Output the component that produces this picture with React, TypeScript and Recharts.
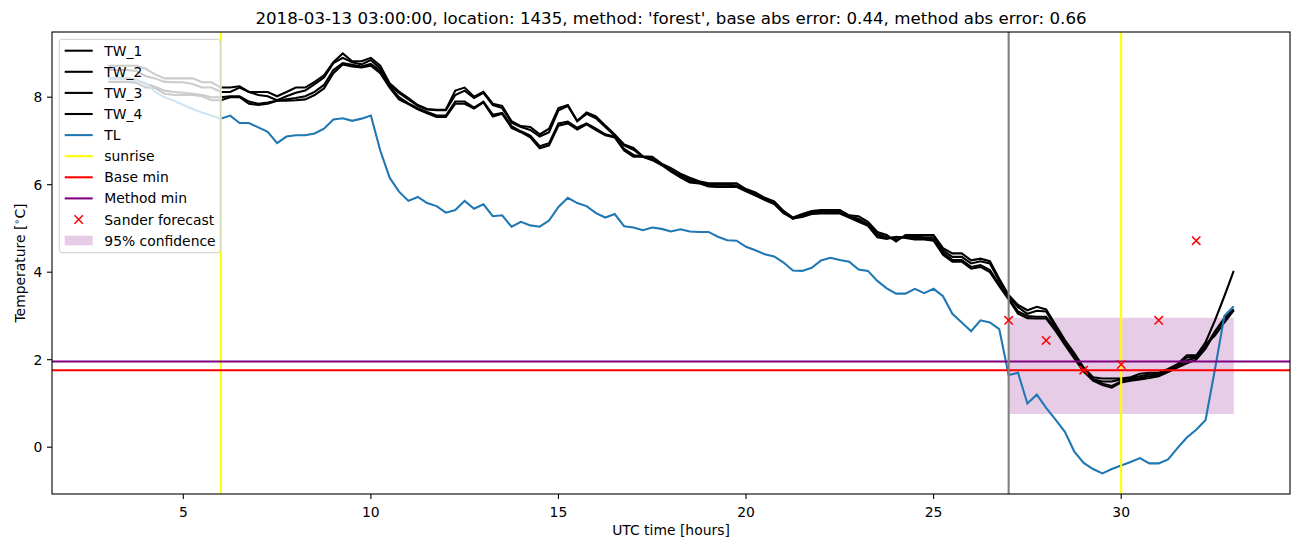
import React from 'react';
import {
  ComposedChart,
  Line,
  Scatter,
  XAxis,
  YAxis,
  ReferenceLine,
  ReferenceArea,
} from 'recharts';

const FONT = '"DejaVu Sans", sans-serif';

const C = {
  tw: '#000000',
  tl: '#1f77b4',
  sunrise: '#ffff00',
  base: '#ff0000',
  method: '#800080',
  forecast: '#ff0000',
  now: '#808080',
};

// sampling grid: every quarter hour from 03:00 to 33:00
const HOURS = Array.from({ length: 121 }, (_, i) => 3 + i * 0.25);

// ─── Series (8 values = 2 hours per row) ───────────────────────────────

const TW_1 = [
  8.72, 8.72, 8.72, 8.72, 8.65, 8.52, 8.43, 8.43,
  8.43, 8.43, 8.34, 8.34, 8.22, 8.22, 8.25, 8.12,
  8.12, 8.12, 8.02, 8.12, 8.22, 8.22, 8.35, 8.5,
  8.8, 9.0, 8.82, 8.82, 8.9, 8.72, 8.32, 8.13,
  7.98, 7.82, 7.73, 7.71, 7.72, 8.15, 8.22, 8.01,
  8.12, 7.85, 7.8, 7.45, 7.34, 7.32, 7.15, 7.28,
  7.75, 7.82, 7.46, 7.65, 7.56, 7.35, 7.15, 6.92,
  6.84, 6.65, 6.64, 6.48, 6.38, 6.25, 6.16, 6.08,
  6.03, 6.03, 6.03, 6.03, 5.9, 5.82, 5.7, 5.62,
  5.4, 5.25, 5.33, 5.4, 5.42, 5.42, 5.42, 5.3,
  5.28, 5.15, 4.92, 4.85, 4.7, 4.85, 4.85, 4.85,
  4.85, 4.55, 4.43, 4.43, 4.27, 4.31, 4.25, 3.85,
  3.48, 3.25, 3.13, 3.21, 3.15, 2.8, 2.45, 2.15,
  1.82, 1.6, 1.57, 1.57, 1.57, 1.6, 1.68, 1.7,
  1.7, 1.79, 1.9, 2.1, 2.1, 2.35, 2.55, 2.85,
  3.13,
];

const TW_2 = [
  8.35, 8.35, 8.35, 8.33, 8.22, 8.21, 8.08, 8.05,
  8.05, 8.05, 8.02, 7.93, 7.93, 8.0, 8.0, 7.85,
  7.82, 7.85, 7.92, 7.92, 7.93, 7.95, 8.05, 8.2,
  8.55, 8.75, 8.7, 8.68, 8.72, 8.55, 8.22, 7.95,
  7.84, 7.72, 7.63, 7.55, 7.55, 7.85, 7.85, 7.74,
  7.88, 7.56, 7.62, 7.3, 7.2, 7.08, 6.83, 6.9,
  7.35, 7.4, 7.26, 7.38, 7.25, 7.13, 7.08, 6.78,
  6.64, 6.64, 6.56, 6.45, 6.3, 6.17, 6.05, 6.03,
  5.96, 5.95, 5.95, 5.95, 5.85, 5.75, 5.65, 5.56,
  5.35, 5.23, 5.26, 5.33, 5.34, 5.34, 5.34, 5.25,
  5.15, 5.06, 4.8, 4.76, 4.81, 4.78, 4.75, 4.75,
  4.72, 4.4, 4.24, 4.24, 4.08, 4.12, 4.0, 3.68,
  3.38, 3.05, 2.95, 2.94, 2.94, 2.66, 2.34, 2.03,
  1.73, 1.52, 1.42, 1.36, 1.48, 1.52, 1.55, 1.58,
  1.62, 1.72, 1.82, 1.92, 2.0, 2.25, 2.62, 2.92,
  3.13,
];

const TW_3 = [
  8.62, 8.62, 8.62, 8.6, 8.48, 8.43, 8.35, 8.34,
  8.34, 8.3, 8.22, 8.22, 8.12, 8.12, 8.22, 8.12,
  8.05, 8.02, 7.93, 8.02, 8.1, 8.15, 8.3, 8.45,
  8.78, 8.9, 8.8, 8.75, 8.85, 8.65, 8.28, 8.1,
  7.95, 7.8, 7.72, 7.7, 7.7, 8.05, 8.15, 7.98,
  8.1, 7.82, 7.75, 7.42, 7.32, 7.25, 7.1, 7.2,
  7.7, 7.8, 7.45, 7.62, 7.52, 7.32, 7.12, 6.9,
  6.8, 6.64, 6.6, 6.45, 6.35, 6.22, 6.12, 6.05,
  6.0, 6.0, 6.0, 5.98, 5.88, 5.8, 5.66, 5.6,
  5.38, 5.22, 5.3, 5.38, 5.4, 5.4, 5.4, 5.28,
  5.22, 5.1, 4.88, 4.8, 4.75, 4.82, 4.82, 4.8,
  4.8, 4.5, 4.35, 4.35, 4.2, 4.25, 4.2, 3.8,
  3.45, 3.2, 3.05, 3.12, 3.1, 2.75, 2.4, 2.1,
  1.78, 1.55, 1.5, 1.5, 1.55, 1.58, 1.62, 1.66,
  1.68, 1.76, 1.88, 2.05, 2.08, 2.4, 2.9, 3.45,
  4.03,
];

const TW_4 = [
  8.43, 8.43, 8.43, 8.4, 8.3, 8.24, 8.15, 8.12,
  8.1, 8.08, 8.05, 8.0, 8.0, 8.02, 8.02, 7.9,
  7.85, 7.88, 7.92, 7.95, 7.98, 8.02, 8.12, 8.28,
  8.62, 8.78, 8.74, 8.7, 8.76, 8.6, 8.25, 8.0,
  7.86, 7.75, 7.66, 7.58, 7.58, 7.9, 7.9, 7.76,
  7.9, 7.6, 7.64, 7.34, 7.22, 7.12, 6.88, 6.95,
  7.4, 7.44, 7.3, 7.4, 7.28, 7.15, 7.1, 6.82,
  6.68, 6.64, 6.58, 6.46, 6.32, 6.2, 6.08, 6.04,
  5.98, 5.96, 5.96, 5.96, 5.86, 5.78, 5.67, 5.58,
  5.36, 5.24, 5.28, 5.35, 5.36, 5.36, 5.36, 5.26,
  5.18, 5.08, 4.84, 4.78, 4.8, 4.8, 4.78, 4.78,
  4.75, 4.45, 4.28, 4.28, 4.12, 4.16, 4.05, 3.72,
  3.4, 3.1, 3.0, 2.98, 2.98, 2.7, 2.38, 2.06,
  1.75, 1.55, 1.45, 1.4, 1.5, 1.55, 1.58, 1.62,
  1.65, 1.75, 1.86, 1.98, 2.05, 2.3, 2.65, 2.95,
  3.15,
];

const TL = [
  8.43, 8.42, 8.41, 8.4, 8.32, 8.12, 8.0, 7.92,
  7.82, 7.73, 7.65, 7.58, 7.51, 7.58, 7.41, 7.41,
  7.31, 7.21, 6.95, 7.1, 7.13, 7.13, 7.17, 7.28,
  7.49, 7.52, 7.46, 7.51, 7.58, 6.78, 6.16, 5.84,
  5.63, 5.72, 5.58, 5.51, 5.36, 5.42, 5.63, 5.45,
  5.55, 5.28, 5.3, 5.04, 5.15, 5.07, 5.04, 5.18,
  5.49, 5.7, 5.58, 5.51, 5.35, 5.25, 5.33, 5.05,
  5.02, 4.96, 5.02, 4.99, 4.93, 4.98, 4.93, 4.92,
  4.92, 4.81, 4.73, 4.72, 4.58, 4.5, 4.41, 4.36,
  4.22, 4.04, 4.03, 4.1, 4.27, 4.33, 4.28, 4.24,
  4.06, 4.03, 3.8, 3.63, 3.51, 3.51, 3.62, 3.52,
  3.62, 3.45, 3.05, 2.85, 2.65, 2.9, 2.85, 2.7,
  1.65, 1.7, 1.0, 1.2, 0.9, 0.63, 0.35, -0.1,
  -0.36, -0.5, -0.6, -0.5, -0.42, -0.34, -0.25, -0.37,
  -0.37, -0.28, -0.02, 0.22, 0.4, 0.62, 1.78, 3.0,
  3.22,
];

const FC_HOURS = [27, 28, 29, 30, 31, 32];
const FC_VALUES = [2.9, 2.44, 1.76, 1.89, 2.9, 4.72];

const SUNRISE = [6, 30];
const NOW_HOUR = 27;
const BASE_MIN = 1.76;
const METHOD_MIN = 1.96;
const CONF_LOW = 0.76;
const CONF_HIGH = 2.96;
const CONF_END = 33;

const X_TICKS = [5, 10, 15, 20, 25, 30];
const Y_TICKS = [0, 2, 4, 6, 8];

const TITLE =
  "2018-03-13 03:00:00, location: 1435, method: 'forest', base abs error: 0.44, method abs error: 0.66";

const rows = HOURS.map((h, i) => ({
  h,
  tw1: TW_1[i],
  tw2: TW_2[i],
  tw3: TW_3[i],
  tw4: TW_4[i],
  tl: TL[i],
}));

const forecast = FC_HOURS.map((h, i) => ({ h, v: FC_VALUES[i] }));

// ─── Small render helpers ────────────────────────────────────────────

function Cross({ cx, cy }: { cx?: number; cy?: number }) {
  if (cx == null || cy == null) return null;
  const r = 4.2;
  return (
    <g>
      <line x1={cx - r} y1={cy - r} x2={cx + r} y2={cy + r} stroke={C.forecast} strokeWidth={1.5} />
      <line x1={cx - r} y1={cy + r} x2={cx + r} y2={cy - r} stroke={C.forecast} strokeWidth={1.5} />
    </g>
  );
}

function XTick({ x, payload }: any) {
  return (
    <text x={x} y={517} textAnchor="middle" fontSize={13.9} fontFamily={FONT} fill="#000">
      {payload.value}
    </text>
  );
}

function YTick({ y, payload }: any) {
  return (
    <text x={42.3} y={y + 5} textAnchor="end" fontSize={13.9} fontFamily={FONT} fill="#000">
      {payload.value}
    </text>
  );
}

const LEGEND = [
  { label: 'TW_1', kind: 'line', color: C.tw },
  { label: 'TW_2', kind: 'line', color: C.tw },
  { label: 'TW_3', kind: 'line', color: C.tw },
  { label: 'TW_4', kind: 'line', color: C.tw },
  { label: 'TL', kind: 'line', color: C.tl },
  { label: 'sunrise', kind: 'line', color: C.sunrise },
  { label: 'Base min', kind: 'line', color: C.base },
  { label: 'Method min', kind: 'line', color: C.method },
  { label: 'Sander forecast', kind: 'marker', color: C.forecast },
  { label: '95% confidence', kind: 'patch', color: C.method },
];

function Overlay() {
  return (
    <svg
      width={1302}
      height={547}
      style={{ position: 'absolute', left: 0, top: 0, pointerEvents: 'none' }}
      fontFamily={FONT}
    >
      <rect x={52} y={32} width={1238} height={462} fill="none" stroke="#000" strokeWidth={1.1} />
      <text x={671} y={23.5} textAnchor="middle" fontSize={16.67} fill="#000">
        {TITLE}
      </text>
      <text x={671} y={535} textAnchor="middle" fontSize={13.9} fill="#000">
        UTC time [hours]
      </text>
      <text transform="translate(24.5,263) rotate(-90)" textAnchor="middle" fontSize={13.9} fill="#000">
        Temperature [
        <tspan fontSize={9.7} dy={-5}>∘</tspan>
        <tspan dy={5}>C]</tspan>
      </text>

      <rect x={59.3} y={39.3} width={161} height={213.4} rx={2.8} fill="#fff" fillOpacity={0.8} stroke="#cccccc" strokeWidth={1} />
      {LEGEND.map((e, i) => {
        const cy = 50.7 + i * 21.1;
        return (
          <g key={e.label}>
            {e.kind === 'line' && (
              <line x1={64.7} y1={cy} x2={92.7} y2={cy} stroke={e.color} strokeWidth={2.08} />
            )}
            {e.kind === 'marker' && <Cross cx={78.7} cy={cy} />}
            {e.kind === 'patch' && (
              <rect x={64.7} y={cy - 4.9} width={28} height={9.7} fill={e.color} fillOpacity={0.2} />
            )}
            <text x={104.3} y={cy + 5} fontSize={13.9} fill="#000">
              {e.label}
            </text>
          </g>
        );
      })}
    </svg>
  );
}

// ─── Chart ───────────────────────────────────────────────────────────

export default function App() {
  return (
    <div style={{ position: 'absolute', left: 0, top: 0, width: 1302, height: 547, background: '#fff' }}>
      <ComposedChart
        width={1302}
        height={547}
        data={rows}
        margin={{ top: 32, right: 12, bottom: 23, left: 0 }}
      >
        <XAxis
          dataKey="h"
          type="number"
          domain={[1.5, 34.5]}
          ticks={X_TICKS}
          interval={0}
          allowDataOverflow
          axisLine={false}
          tickLine={{ stroke: '#000', strokeWidth: 1.1 }}
          tickSize={5}
          height={30}
          tick={XTick}
        />
        <YAxis
          type="number"
          domain={[-1.07, 9.49]}
          ticks={Y_TICKS}
          interval={0}
          allowDataOverflow
          axisLine={false}
          tickLine={{ stroke: '#000', strokeWidth: 1.1 }}
          tickSize={5}
          width={52}
          tick={YTick}
        />
        <ReferenceArea
          x1={NOW_HOUR}
          x2={CONF_END}
          y1={CONF_LOW}
          y2={CONF_HIGH}
          fill={C.method}
          fillOpacity={0.2}
          stroke="none"
        />
        <Line type="linear" dataKey="tw1" stroke={C.tw} strokeWidth={2.08} dot={false} isAnimationActive={false} />
        <Line type="linear" dataKey="tw2" stroke={C.tw} strokeWidth={2.08} dot={false} isAnimationActive={false} />
        <Line type="linear" dataKey="tw3" stroke={C.tw} strokeWidth={2.08} dot={false} isAnimationActive={false} />
        <Line type="linear" dataKey="tw4" stroke={C.tw} strokeWidth={2.08} dot={false} isAnimationActive={false} />
        <Line type="linear" dataKey="tl" stroke={C.tl} strokeWidth={2.08} dot={false} isAnimationActive={false} />
        {SUNRISE.map((s) => (
          <ReferenceLine key={s} x={s} stroke={C.sunrise} strokeWidth={2.08} />
        ))}
        <ReferenceLine y={BASE_MIN} stroke={C.base} strokeWidth={2.08} />
        <ReferenceLine y={METHOD_MIN} stroke={C.method} strokeWidth={2.08} />
        <ReferenceLine x={NOW_HOUR} stroke={C.now} strokeWidth={2.08} />
        <Scatter data={forecast} dataKey="v" shape={Cross} isAnimationActive={false} />
      </ComposedChart>
      <Overlay />
    </div>
  );
}
